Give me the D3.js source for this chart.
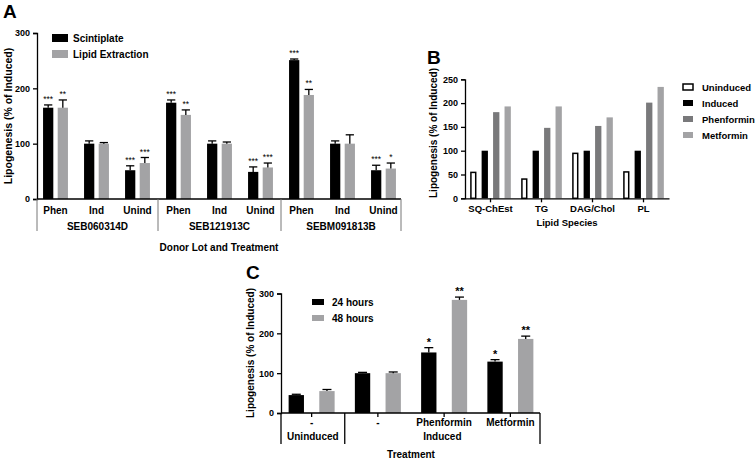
<!DOCTYPE html>
<html><head><meta charset="utf-8">
<script src="https://cdn.jsdelivr.net/npm/d3@7"></script>
<style>body{margin:0;background:#fff}svg{display:block;font-family:"Liberation Sans",Arial,sans-serif;font-weight:bold}</style>
</head><body><svg id="c" width="756" height="460"></svg>
<script>
// ---------- Panel A data ----------
const aCats = ["Phen","Ind","Unind"];
const aLots = ["SEB060314D","SEB121913C","SEBM091813B"];
const aSeries = ["Scintiplate","Lipid Extraction"];
const aScint = [165,100,52, 174,100,49, 251,100,52];
const aScintErr = [5,5,8, 5,5,9, 2,5,9];
const aLipid = [165,100,65, 152,100,57, 188,100,55];
const aLipidErr = [14,2,10, 9,3,8, 10,16,10];
const aScintStars = ["***","","***", "***","","***", "***","","***"];
const aLipidStars = ["**","","***", "**","","***", "**","","*"];
const aTicks = [0,100,200,300];
// ---------- Panel B data ----------
const bCats = ["SQ-ChEst","TG","DAG/Chol","PL"];
const bSeries = ["Uninduced","Induced","Phenformin","Metformin"];
const bUninduced = [56,42,96,57];
const bInduced = [100,100,100,100];
const bPhenformin = [181,148,152,201];
const bMetformin = [193,193,170,234];
const bTicks = [0,50,100,150,200,250];
// ---------- Panel C data ----------
const cCats = ["-","-","Phenformin","Metformin"];
const cSeries = ["24 hours","48 hours"];
const c24 = [45,100,152,129];
const c24Err = [2,2,12,5];
const c48 = [55,100,284,186];
const c48Err = [4,3,7,7];
const c24Stars = ["","","*","*"];
const c48Stars = ["","","**","**"];
const cTicks = [0,100,200,300];

const svg = d3.select("#c");
const BLACK="#000", GRAY="#a3a3a5", DGRAY="#79797b";

function errBar(g, x, yTop, yErr, cap){
  g.append("line").attr("x1",x).attr("x2",x).attr("y1",yTop).attr("y2",yErr).attr("stroke","#000").attr("stroke-width",1.3);
  g.append("line").attr("x1",x-cap).attr("x2",x+cap).attr("y1",yErr).attr("y2",yErr).attr("stroke","#000").attr("stroke-width",1.3);
}
function yAxis(g, y, ticks, x0, fs){
  const ax = d3.axisLeft(y).tickValues(ticks).tickSize(4).tickPadding(3);
  const a = g.append("g").attr("transform",`translate(${x0},0)`).call(ax);
  a.select(".domain").attr("stroke","#000").attr("stroke-width",1.3);
  a.selectAll(".tick line").attr("stroke","#000").attr("stroke-width",1.3);
  a.selectAll("text").attr("font-family","Liberation Sans, Arial").attr("font-weight","bold").attr("font-size",fs||9).attr("fill","#000");
  return a;
}

// ================= Panel A =================
{
  const g = svg.append("g");
  const y = d3.scaleLinear().domain([0,300]).range([199,33]);
  const idx = d3.range(9);
  const x = d3.scaleBand().domain(idx).range([35,404]);
  const sub = d3.scaleBand().domain(aSeries).range([0,x.bandwidth()]).paddingInner(0.3).paddingOuter(0.55);
  const bw = sub.bandwidth();
  [[aScint,aScintErr,aScintStars,BLACK,aSeries[0]],[aLipid,aLipidErr,aLipidStars,GRAY,aSeries[1]]].forEach(([vals,errs,stars,col,s])=>{
    idx.forEach(i=>{
      const bx = x(i)+sub(s);
      g.append("rect").attr("x",bx).attr("y",y(vals[i])).attr("width",bw).attr("height",y(0)-y(vals[i])).attr("fill",col);
      errBar(g, bx+bw/2, y(vals[i]), y(vals[i]+errs[i]), bw/2-1);
      if(stars[i]) g.append("text").attr("x",bx+bw/2).attr("y",y(vals[i]+errs[i])-3).attr("text-anchor","middle").attr("font-size",8.5).attr("font-weight","normal").text(stars[i]);
    });
  });
  yAxis(g,y,aTicks,37,9);
  g.append("line").attr("x1",37).attr("x2",401).attr("y1",199).attr("y2",199).attr("stroke","#000").attr("stroke-width",1.3);
  idx.forEach(i=>{
    g.append("text").attr("x",x(i)+x.bandwidth()/2).attr("y",214).attr("text-anchor","middle").attr("font-size",10).text(aCats[i%3]);
  });
  const seps = [37, (x(2)+x.bandwidth()+x(3))/2, (x(5)+x.bandwidth()+x(6))/2, 401];
  seps.forEach(sx=>g.append("line").attr("x1",sx).attr("x2",sx).attr("y1",199).attr("y2",231).attr("stroke","#777").attr("stroke-width",1));
  aLots.forEach((l,k)=>{
    g.append("text").attr("x",(seps[k]+seps[k+1])/2).attr("y",230).attr("text-anchor","middle").attr("font-size",10).text(l);
  });
  g.append("text").attr("x",219).attr("y",251).attr("text-anchor","middle").attr("font-size",10).text("Donor Lot and Treatment");
  g.append("text").attr("transform","translate(12,116) rotate(-90)").attr("text-anchor","middle").attr("font-size",10.5).text("Lipogenesis (% of Induced)");
  g.append("text").attr("x",3).attr("y",18).attr("font-size",19).text("A");
  [[BLACK,aSeries[0],38],[GRAY,aSeries[1],54]].forEach(([c,t,ly])=>{
    g.append("rect").attr("x",52).attr("y",ly-4).attr("width",16).attr("height",8).attr("fill",c);
    g.append("text").attr("x",73).attr("y",ly+3.5).attr("font-size",10).text(t);
  });
}

// ================= Panel B =================
{
  const g = svg.append("g");
  const y = d3.scaleLinear().domain([0,250]).range([198.3,79.3]);
  const x = d3.scaleBand().domain(bCats).range([465,669]);
  const sub = d3.scaleBand().domain(bSeries).range([0,x.bandwidth()]).paddingInner(0.45).paddingOuter(0.45);
  const bw = sub.bandwidth();
  const cols = {Uninduced:"#fff",Induced:BLACK,Phenformin:DGRAY,Metformin:GRAY};
  const data = {Uninduced:bUninduced,Induced:bInduced,Phenformin:bPhenformin,Metformin:bMetformin};
  bSeries.forEach(s=>{
    bCats.forEach((c,i)=>{
      const v = data[s][i];
      const r = g.append("rect").attr("x",x(c)+sub(s)).attr("y",y(v)).attr("width",bw).attr("height",y(0)-y(v)).attr("fill",cols[s]);
      if(s==="Uninduced") r.attr("stroke","#000").attr("stroke-width",1.5).attr("x",x(c)+sub(s)+0.75).attr("width",bw-1.5).attr("y",y(v)+0.75).attr("height",y(0)-y(v)-0.75);
    });
  });
  yAxis(g,y,bTicks,465,9);
  const xa = g.append("g").attr("transform","translate(0,198.3)").call(d3.axisBottom(x).tickSize(4).tickPadding(3).tickSizeOuter(0));
  xa.select(".domain").attr("stroke","#000").attr("stroke-width",1.3);
  xa.selectAll(".tick line").attr("stroke","#000").attr("stroke-width",1.3);
  xa.selectAll("text").attr("font-family","Liberation Sans, Arial").attr("font-weight","bold").attr("font-size",9.5).attr("fill","#000");
  g.append("text").attr("x",567).attr("y",226).attr("text-anchor","middle").attr("font-size",9.5).text("Lipid Species");
  g.append("text").attr("transform","translate(437,133) rotate(-90)").attr("text-anchor","middle").attr("font-size",10).text("Lipogenesis (% of Induced)");
  g.append("text").attr("x",427).attr("y",64).attr("font-size",19).text("B");
  bSeries.forEach((s,k)=>{
    const ly = 87+k*16;
    const r = g.append("rect").attr("x",683).attr("y",ly-3).attr("width",10).attr("height",6).attr("fill",cols[s]);
    if(s==="Uninduced") r.attr("stroke","#000").attr("stroke-width",1.5);
    g.append("text").attr("x",702).attr("y",ly+3.5).attr("font-size",9.5).text(s);
  });
}

// ================= Panel C =================
{
  const g = svg.append("g");
  const y = d3.scaleLinear().domain([0,300]).range([413,293.5]);
  const idx = d3.range(4);
  const x = d3.scaleBand().domain(idx).range([278.5,543.5]);
  const sub = d3.scaleBand().domain(cSeries).range([0,x.bandwidth()]).paddingInner(0.5).paddingOuter(0.33);
  const bw = sub.bandwidth();
  [[c24,c24Err,c24Stars,BLACK,cSeries[0]],[c48,c48Err,c48Stars,GRAY,cSeries[1]]].forEach(([vals,errs,stars,col,s])=>{
    idx.forEach(i=>{
      const bx = x(i)+sub(s);
      g.append("rect").attr("x",bx).attr("y",y(vals[i])).attr("width",bw).attr("height",y(0)-y(vals[i])).attr("fill",col);
      errBar(g, bx+bw/2, y(vals[i]), y(vals[i]+errs[i]), 4.5);
      if(stars[i]) g.append("text").attr("x",bx+bw/2).attr("y",y(vals[i]+errs[i])-2).attr("text-anchor","middle").attr("font-size",11).text(stars[i]);
    });
  });
  yAxis(g,y,cTicks,281,9);
  g.append("line").attr("x1",281).attr("x2",540).attr("y1",413).attr("y2",413).attr("stroke","#000").attr("stroke-width",1.3);
  idx.forEach(i=>{
    const cx = x(i)+x.bandwidth()/2;
    g.append("line").attr("x1",cx).attr("x2",cx).attr("y1",413).attr("y2",417).attr("stroke","#000").attr("stroke-width",1.3);
    g.append("text").attr("x",cx).attr("y",426).attr("text-anchor","middle").attr("font-size",10).text(cCats[i]);
  });
  const seps=[281,(x(0)+x.bandwidth()+x(1))/2,540];
  seps.forEach(sx=>g.append("line").attr("x1",sx).attr("x2",sx).attr("y1",413).attr("y2",444).attr("stroke","#000").attr("stroke-width",1.3));
  g.append("text").attr("x",(seps[0]+seps[1])/2).attr("y",440).attr("text-anchor","middle").attr("font-size",10).text("Uninduced");
  g.append("text").attr("x",(seps[1]+seps[2])/2).attr("y",440).attr("text-anchor","middle").attr("font-size",10).text("Induced");
  g.append("text").attr("x",411).attr("y",458).attr("text-anchor","middle").attr("font-size",10).text("Treatment");
  g.append("text").attr("transform","translate(254,353) rotate(-90)").attr("text-anchor","middle").attr("font-size",10).text("Lipogenesis (% of Induced)");
  g.append("text").attr("x",246).attr("y",279).attr("font-size",19).text("C");
  [[BLACK,cSeries[0],302],[GRAY,cSeries[1],318]].forEach(([c,t,ly])=>{
    g.append("rect").attr("x",312).attr("y",ly-3).attr("width",12).attr("height",6).attr("fill",c);
    g.append("text").attr("x",332).attr("y",ly+3.5).attr("font-size",10).text(t);
  });
}
</script></body></html>
